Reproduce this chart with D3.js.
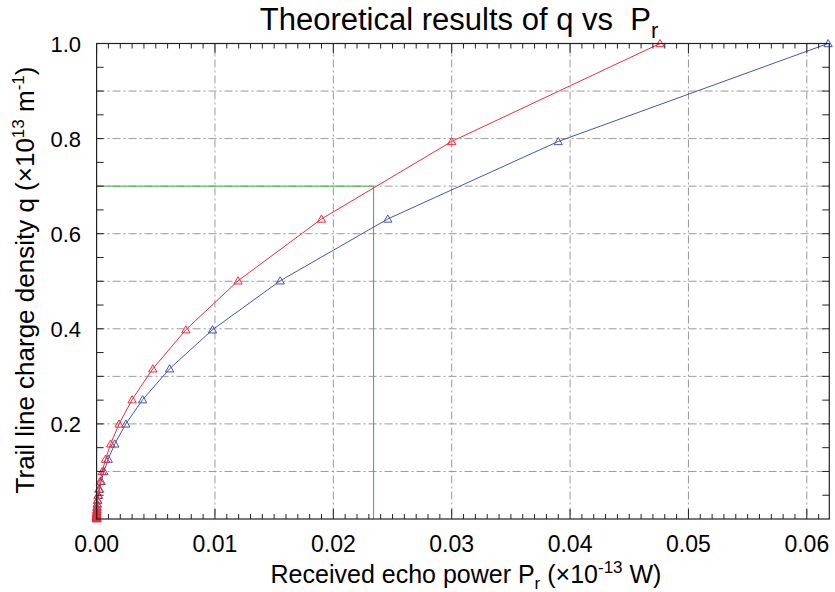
<!DOCTYPE html>
<html>
<head>
<meta charset="utf-8">
<script src="https://cdn.jsdelivr.net/npm/d3@7"></script>
<style>
  html, body { margin: 0; padding: 0; background: #fff; }
  svg { display: block; font-family: "Liberation Sans", Arial, Helvetica, sans-serif; }
  text { white-space: pre; }
</style>
</head>
<body>
<svg id="chart" width="835" height="592"></svg>
<script>
// Trail line charge density levels (×10^13 m^-1)
const qLevels = [1.0, 0.794, 0.631, 0.501, 0.398, 0.316, 0.251, 0.200, 0.158, 0.126,
  0.100, 0.0794, 0.0631, 0.0501, 0.0398, 0.0316, 0.0251, 0.0200, 0.0158, 0.0126,
  0.0100, 0.0079, 0.0063, 0.0050, 0.0040, 0.0032, 0.0025, 0.0020, 0.0016, 0.0013, 0.0010];

// Received echo power (×10^-13 W) for the two cases
const powerRed = [0.0476, 0.0300, 0.0190, 0.01195, 0.00754, 0.00475, 0.00300, 0.00190, 0.00119, 0.000756,
  0.000476, 0.000300, 0.000190, 0.000119, 0.0000754, 0.0000475, 0.0000300, 0.0000190, 0.0000119, 0.0000076,
  0.0000048, 0.0000030, 0.0000019, 0.0000012, 0.0000008, 0.0000005, 0.0000003, 0.0000002, 0.0000001, 0.0000001, 0.0000000];
const powerBlue = [0.0618, 0.0390, 0.0246, 0.01551, 0.00979, 0.00617, 0.00389, 0.00247, 0.00154, 0.000981,
  0.000618, 0.000390, 0.000246, 0.000155, 0.0000979, 0.0000617, 0.0000389, 0.0000247, 0.0000154, 0.0000098,
  0.0000062, 0.0000039, 0.0000025, 0.0000015, 0.0000010, 0.0000006, 0.0000004, 0.0000002, 0.0000002, 0.0000001, 0.0000001];

// Reading marker: q = 0.7 on the red curve
const markQ = 0.7;
const markP = 0.0234;

const xTickLabels = ["0.00", "0.01", "0.02", "0.03", "0.04", "0.05", "0.06"];
const yTickLabels = ["0.2", "0.4", "0.6", "0.8", "1.0"];

const svg = d3.select("#chart");
const plotL = 96.6, plotR = 829.3, plotT = 43.5, plotB = 519;

const x = d3.scaleLinear().domain([0, 0.0619]).range([plotL, plotR]);
const y = d3.scaleLinear().domain([0, 1.0]).range([plotB, plotT]);

const gridColor = "#9a9a9a";
const dash = "8,3,2,3";

// Grid lines
const grid = svg.append("g");
grid.selectAll("line.gx").data(d3.range(1, 7).map(i => i * 0.01)).join("line")
  .attr("x1", d => x(d)).attr("x2", d => x(d))
  .attr("y1", plotT).attr("y2", plotB)
  .attr("stroke", gridColor).attr("stroke-width", 1).attr("stroke-dasharray", dash);
grid.selectAll("line.gy").data(d3.range(1, 10).map(i => i * 0.1)).join("line")
  .attr("x1", plotL).attr("x2", plotR)
  .attr("y1", d => y(d)).attr("y2", d => y(d))
  .attr("stroke", gridColor).attr("stroke-width", 1).attr("stroke-dasharray", dash);

// Reading guide lines
const guide = svg.append("g").attr("stroke", "#3cb043").attr("stroke-width", 1).attr("fill", "none");
guide.append("path").attr("d", d3.line()([[x(0), y(markQ)], [x(markP), y(markQ)], [x(markP), y(0)]]));

// Curves
const series = [
  { p: powerBlue, color: "#4656ad" },
  { p: powerRed, color: "#f52a36" }
];
const line = d3.line().x(d => x(d[0])).y(d => y(d[1]));
const tri = d3.symbol().type(d3.symbolTriangle).size(30);

series.forEach(s => {
  const pts = s.p.map((v, i) => [v, qLevels[i]]);
  const g = svg.append("g");
  g.append("path").attr("d", line(pts)).attr("fill", "none").attr("stroke", s.color).attr("stroke-width", 1);
  g.selectAll("path.m").data(pts).join("path")
    .attr("transform", d => `translate(${x(d[0])},${y(d[1]) + 0.8})`)
    .attr("d", tri).attr("fill", "none").attr("stroke", s.color).attr("stroke-width", 1);
});

// Frame
svg.append("rect").attr("x", plotL).attr("y", plotT).attr("width", plotR - plotL).attr("height", plotB - plotT)
  .attr("fill", "none").attr("stroke", "#222").attr("stroke-width", 1.2);

// Ticks (inward)
const ticks = svg.append("g").attr("stroke", "#222").attr("stroke-width", 1);
const xMinor = d3.range(0, 62).map(i => i * 0.001);
xMinor.forEach((v, i) => {
  const len = (i % 10 === 0) ? 10 : 5;
  ticks.append("line").attr("x1", x(v)).attr("x2", x(v)).attr("y1", plotB).attr("y2", plotB - len);
  ticks.append("line").attr("x1", x(v)).attr("x2", x(v)).attr("y1", plotT).attr("y2", plotT + len);
});
const yMinor = d3.range(1, 20).map(i => i * 0.05);
yMinor.forEach(v => {
  ticks.append("line").attr("x1", plotL).attr("x2", plotL + 7).attr("y1", y(v)).attr("y2", y(v));
  ticks.append("line").attr("x1", plotR).attr("x2", plotR - 7).attr("y1", y(v)).attr("y2", y(v));
});

// Tick labels
svg.append("g").selectAll("text").data(xTickLabels).join("text")
  .attr("x", (d, i) => x(i * 0.01)).attr("y", 552)
  .attr("text-anchor", "middle").attr("font-size", 23).attr("fill", "#000")
  .text(d => d);
svg.append("g").selectAll("text").data(yTickLabels).join("text")
  .attr("x", 81).attr("y", d => y(+d) + 8)
  .attr("text-anchor", "end").attr("font-size", 22).attr("fill", "#000")
  .text(d => d);

// Title
const title = svg.append("text").attr("x", 459).attr("y", 30).attr("text-anchor", "middle")
  .attr("font-size", 31).attr("fill", "#000");
title.append("tspan").text("Theoretical results of q vs  P");
title.append("tspan").attr("font-size", 22).attr("dy", 8).text("r");

// X axis title
const xt = svg.append("text").attr("x", 466).attr("y", 583).attr("text-anchor", "middle")
  .attr("font-size", 25).attr("fill", "#000");
xt.append("tspan").text("Received echo power P");
xt.append("tspan").attr("font-size", 17).attr("dy", 6).text("r");
xt.append("tspan").attr("dy", -6).text(" (×10");
xt.append("tspan").attr("font-size", 17).attr("dy", -10).text("-13");
xt.append("tspan").attr("dy", 10).text(" W)");

// Y axis title
const yt = svg.append("text").attr("transform", "translate(34,280) rotate(-90)").attr("text-anchor", "middle")
  .attr("font-size", 26).attr("fill", "#000");
yt.append("tspan").text("Trail line charge density q (×10");
yt.append("tspan").attr("font-size", 17).attr("dy", -10).text("13");
yt.append("tspan").attr("dy", 10).text(" m");
yt.append("tspan").attr("font-size", 17).attr("dy", -10).text("-1");
yt.append("tspan").attr("dy", 10).text(")");
</script>
</body>
</html>
